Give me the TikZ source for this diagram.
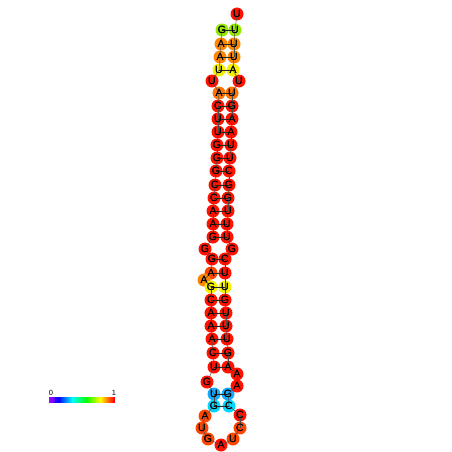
\documentclass[tikz,border=0pt]{standalone}
\usepackage{fontspec}
\setmainfont{Liberation Sans}
\definecolor{cR}{RGB}{255,18,0}
\definecolor{cOR}{RGB}{255,70,0}
\definecolor{cO}{RGB}{255,135,0}
\definecolor{cO2}{RGB}{255,115,0}
\definecolor{cY}{RGB}{245,240,0}
\definecolor{cL}{RGB}{150,232,0}
\definecolor{cB}{RGB}{20,170,255}
\definecolor{cC}{RGB}{0,215,255}
\tikzset{
  nt/.style={circle, inner sep=0pt, minimum size=13pt, fill=#1, font=\fontsize{10.5}{10.5}\selectfont, text=black},
  bb/.style={draw=black!70, line width=0.45pt},
  bp/.style={draw=black!85, line width=0.45pt},
  lbl/.style={font=\fontsize{7.5}{7.5}\selectfont, inner sep=0pt}
}
\begin{document}
\begin{tikzpicture}[x=1pt,y=-1pt]
\useasboundingbox (0,0) rectangle (452,452);
\fill[white] (0,0) rectangle (452,452);
% nucleotides
\node[nt=cL]  (n1)  at (222,30)  {G};
\node[nt=cO]  (n2)  at (221,44)  {A};
\node[nt=cO]  (n3)  at (220,57)  {A};
\node[nt=cY]  (n4)  at (219,70)  {U};
\node[nt=cR]  (n5)  at (212,81)  {U};
\node[nt=cO2] (n6)  at (219,93)  {A};
\node[nt=cR]  (n7)  at (218,106) {C};
\node[nt=cR]  (n8)  at (218,119) {U};
\node[nt=cR]  (n9)  at (218,132) {U};
\node[nt=cR]  (n10) at (217,145) {G};
\node[nt=cR]  (n11) at (217,158) {G};
\node[nt=cR]  (n12) at (216,171) {G};
\node[nt=cR]  (n13) at (215,185) {C};
\node[nt=cR]  (n14) at (214,198) {C};
\node[nt=cR]  (n15) at (213,211) {A};
\node[nt=cR]  (n16) at (213,224) {A};
\node[nt=cR]  (n17) at (213,237) {G};
\node[nt=cR]  (n18) at (205,249) {G};
\node[nt=cR]  (n19) at (212,259) {G};
\node[nt=cOR] (n20) at (211,273) {A};
\node[nt=cO]  (n21) at (204,280) {A};
\node[nt=cY]  (n22) at (211,287) {G};
\node[nt=cR]  (n23) at (211,300) {C};
\node[nt=cR]  (n24) at (211,313) {A};
\node[nt=cR]  (n25) at (211,326) {A};
\node[nt=cR]  (n26) at (212,339) {A};
\node[nt=cR]  (n27) at (213,353) {C};
\node[nt=cR]  (n28) at (214,367) {U};
\node[nt=cR]  (n29) at (207,382) {G};
\node[nt=cB]  (n30) at (214,394) {U};
\node[nt=cC]  (n31) at (214,406) {G};
\node[nt=cOR] (n32) at (205,416) {A};
\node[nt=cOR] (n33) at (202,428) {U};
\node[nt=cOR] (n34) at (208,439) {G};
\node[nt=cR]  (n35) at (221,445) {A};
\node[nt=cOR] (n36) at (233,439) {U};
\node[nt=cOR] (n37) at (240,428) {C};
\node[nt=cR]  (n38) at (240,415) {C};
\node[nt=cC]  (n39) at (229,406) {C};
\node[nt=cB]  (n40) at (228,394) {G};
\node[nt=cR]  (n41) at (237,386) {A};
\node[nt=cR]  (n42) at (237,374) {A};
\node[nt=cR]  (n43) at (228,367) {A};
\node[nt=cR]  (n44) at (228,353) {G};
\node[nt=cR]  (n45) at (227,339) {U};
\node[nt=cR]  (n46) at (226,326) {U};
\node[nt=cR]  (n47) at (226,313) {U};
\node[nt=cR]  (n48) at (225,300) {G};
\node[nt=cY]  (n49) at (225,287) {U};
\node[nt=cR]  (n50) at (225,273) {U};
\node[nt=cR]  (n51) at (225,259) {C};
\node[nt=cR]  (n52) at (232,249) {G};
\node[nt=cR]  (n53) at (227,237) {U};
\node[nt=cR]  (n54) at (227,224) {U};
\node[nt=cR]  (n55) at (228,211) {U};
\node[nt=cR]  (n56) at (228,198) {G};
\node[nt=cR]  (n57) at (229,185) {G};
\node[nt=cR]  (n58) at (229,171) {C};
\node[nt=cR]  (n59) at (230,158) {U};
\node[nt=cR]  (n60) at (231,145) {U};
\node[nt=cR]  (n61) at (231,132) {A};
\node[nt=cR]  (n62) at (232,119) {A};
\node[nt=cR]  (n63) at (232,106) {G};
\node[nt=cO2] (n64) at (232,93)  {U};
\node[nt=cR]  (n65) at (239,81)  {U};
\node[nt=cY]  (n66) at (233,70)  {A};
\node[nt=cO]  (n67) at (234,57)  {U};
\node[nt=cO]  (n68) at (234,44)  {U};
\node[nt=cL]  (n69) at (235,30)  {U};
\node[nt=cR]  (n70) at (237,14)  {U};
% backbone
\foreach \i [evaluate=\i as \j using int(\i+1)] in {1,...,69} {
  \draw[bb] (n\i.center) -- (n\j.center);
}
% base pairs
\foreach \a/\b in {1/69,2/68,3/67,4/66,6/64,7/63,8/62,9/61,10/60,11/59,12/58,13/57,14/56,15/55,16/54,17/53,19/51,20/50,22/49,23/48,24/47,25/46,26/45,27/44,28/43,30/40,31/39} {
  \draw[bp] (n\a.center) -- (n\b.center);
}
% letters on top again
\foreach \i/\t in {1/G,2/A,3/A,4/U,5/U,6/A,7/C,8/U,9/U,10/G,11/G,12/G,13/C,14/C,15/A,16/A,17/G,18/G,19/G,20/A,21/A,22/G,23/C,24/A,25/A,26/A,27/C,28/U,29/G,30/U,31/G,32/A,33/U,34/G,35/A,36/U,37/C,38/C,39/C,40/G,41/A,42/A,43/A,44/G,45/U,46/U,47/U,48/G,49/U,50/U,51/C,52/G,53/U,54/U,55/U,56/G,57/G,58/C,59/U,60/U,61/A,62/A,63/G,64/U,65/U,66/A,67/U,68/U,69/U,70/U} {
  \node[inner sep=0pt, font=\fontsize{10.5}{10.5}\selectfont] at (n\i.center) {\t};
}
% colour bar
\foreach \k in {0,...,65} {
  \pgfmathsetmacro{\hh}{0.78*(1-\k/65)}
  \definecolor{tmpc}{hsb}{\hh,1,1}
  \fill[tmpc] (49+\k,397) rectangle (50.2+\k,403);
}
\node[lbl] (l0) at (51,393) {0};
\node[lbl] (l1) at (114,393) {1};
\end{tikzpicture}
\end{document}
